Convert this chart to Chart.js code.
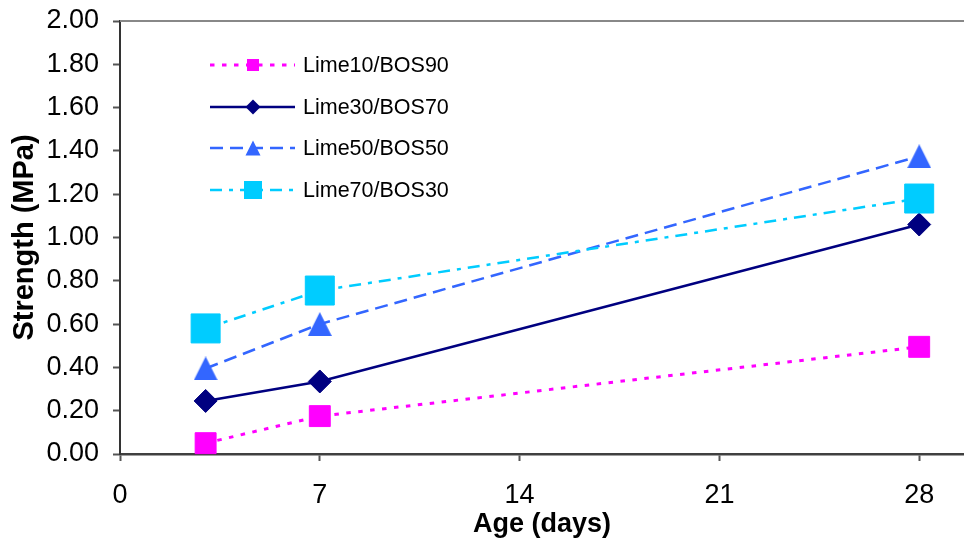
<!DOCTYPE html>
<html>
<head>
<meta charset="utf-8">
<script src="https://cdn.jsdelivr.net/npm/chart.js@4/dist/chart.umd.min.js"></script>
<style>
  html, body { margin: 0; padding: 0; background: #ffffff; }
  #wrap { width: 964px; height: 542px; position: relative; }
</style>
</head>
<body>
<div id="wrap"><canvas id="c" width="964" height="542"></canvas></div>
<script>
// Curing age (days) and compressive strength (MPa) per binder blend
const ages = [3, 7, 28];
const seriesNames = ['Lime10/BOS90', 'Lime30/BOS70', 'Lime50/BOS50', 'Lime70/BOS30'];
const lime10 = [0.05, 0.175, 0.495];
const lime30 = [0.245, 0.335, 1.06];
const lime50 = [0.395, 0.60, 1.375];
const lime70 = [0.58, 0.755, 1.18];
const xTickValues = [0, 7, 14, 21, 28];

const FONT = "'Liberation Sans', Arial, Helvetica, sans-serif";

// Isosceles triangle marker, centred on its bounding box
function triangleImage(size, color) {
  const cv = document.createElement('canvas');
  cv.width = size; cv.height = size;
  const g = cv.getContext('2d');
  g.fillStyle = color;
  g.beginPath();
  g.moveTo(size / 2, 0);
  g.lineTo(size, size);
  g.lineTo(0, size);
  g.closePath();
  g.fill();
  return cv;
}

const styles = [
  { color: '#FF00FF', dash: [4.5, 7.5], width: 3, point: 'rect', radius: 14.8, legendSize: 12 },
  { color: '#000080', dash: [], width: 2.5, point: 'rectRot', radius: 11.5, legendSize: 15 },
  { color: '#3366FF', dash: [13, 7], width: 2.5, point: triangleImage(24, '#3366FF'), radius: 12, legendSize: 15 },
  { color: '#00CCFF', dash: [12, 7, 4, 7], width: 2.5, point: 'rect', radius: 20.5, legendSize: 18 }
];
const seriesValues = [lime10, lime30, lime50, lime70];

const datasets = seriesValues.map((vals, i) => ({
  label: seriesNames[i],
  data: ages.map((a, k) => ({ x: a, y: vals[k] })),
  borderColor: styles[i].color,
  backgroundColor: styles[i].color,
  borderWidth: styles[i].width,
  borderDash: styles[i].dash,
  pointStyle: styles[i].point,
  pointRadius: styles[i].radius,
  pointBackgroundColor: styles[i].color,
  pointBorderColor: styles[i].color,
  pointBorderWidth: 1,
  tension: 0,
  fill: false,
  order: seriesValues.length - i,
  clip: false
}));

// Top frame line and the in-plot legend
const framePlugin = {
  id: 'frameAndLegend',
  beforeDatasetsDraw(chart) {
    const { ctx, chartArea } = chart;
    ctx.save();
    ctx.strokeStyle = '#888888';
    ctx.lineWidth = 2;
    ctx.beginPath();
    ctx.moveTo(chartArea.left, chartArea.top);
    ctx.lineTo(chartArea.right, chartArea.top);
    ctx.stroke();
    ctx.restore();
  },
  afterDatasetsDraw(chart) {
    const { ctx } = chart;
    const x0 = 210, x1 = 295, xm = 253, xt = 303;
    const rowsY = [65, 107, 148, 190];
    ctx.save();
    chart.data.datasets.forEach((ds, i) => {
      const y = rowsY[i];
      const st = styles[i];
      ctx.strokeStyle = st.color;
      ctx.lineWidth = st.width;
      ctx.setLineDash(st.dash);
      ctx.beginPath();
      ctx.moveTo(x0, y);
      ctx.lineTo(x1, y);
      ctx.stroke();
      ctx.setLineDash([]);
      ctx.fillStyle = st.color;
      const s = st.legendSize;
      if (i === 1) {
        ctx.beginPath();
        ctx.moveTo(xm - s / 2, y);
        ctx.lineTo(xm, y - s / 2);
        ctx.lineTo(xm + s / 2, y);
        ctx.lineTo(xm, y + s / 2);
        ctx.closePath();
        ctx.fill();
      } else if (i === 2) {
        ctx.beginPath();
        ctx.moveTo(xm, y - s / 2);
        ctx.lineTo(xm + s / 2, y + s / 2);
        ctx.lineTo(xm - s / 2, y + s / 2);
        ctx.closePath();
        ctx.fill();
      } else {
        ctx.fillRect(xm - s / 2, y - s / 2, s, s);
      }
      ctx.fillStyle = '#000000';
      ctx.font = '21.5px ' + FONT;
      ctx.textAlign = 'left';
      ctx.textBaseline = 'middle';
      ctx.fillText(ds.label, xt, y + 1);
    });
    ctx.restore();
  }
};

new Chart(document.getElementById('c'), {
  type: 'line',
  data: { datasets },
  plugins: [framePlugin],
  options: {
    responsive: false,
    animation: false,
    events: [],
    layout: { autoPadding: false, padding: { top: 21, right: 0, bottom: 0, left: 0 } },
    plugins: {
      legend: { display: false },
      tooltip: { enabled: false },
      title: { display: false }
    },
    scales: {
      x: {
        type: 'linear',
        min: 0,
        max: 29.57,
        afterFit(scale) {
          scale.height = 88;
          scale.paddingLeft = 0;
          scale.paddingRight = 0;
        },
        afterBuildTicks(scale) { scale.ticks = xTickValues.map(v => ({ value: v })); },
        grid: {
          display: true,
          drawOnChartArea: false,
          drawTicks: true,
          tickLength: 7,
          tickColor: '#555555',
          tickWidth: 2
        },
        border: { display: true, color: '#404040', width: 2.5 },
        ticks: {
          color: '#000000',
          font: { family: FONT, size: 27 },
          padding: 18,
          maxRotation: 0,
          callback: v => String(v)
        },
        title: {
          display: true,
          text: 'Age (days)',
          color: '#000000',
          font: { family: FONT, size: 27, weight: 'bold' },
          padding: { top: 0, bottom: 1 }
        }
      },
      y: {
        type: 'linear',
        min: 0,
        max: 2,
        afterFit(scale) {
          scale.width = 120;
          scale.paddingTop = 0;
          scale.paddingBottom = 0;
        },
        grid: {
          display: true,
          drawOnChartArea: false,
          drawTicks: true,
          tickLength: 7,
          tickColor: '#555555',
          tickWidth: 2
        },
        border: { display: true, color: '#333333', width: 2 },
        ticks: {
          stepSize: 0.2,
          color: '#000000',
          font: { family: FONT, size: 27 },
          padding: 14,
          callback: v => Number(v).toFixed(2)
        },
        title: {
          display: true,
          text: 'Strength (MPa)',
          color: '#000000',
          font: { family: FONT, size: 29, weight: 'bold' },
          padding: { top: 8, bottom: 0 }
        }
      }
    }
  }
});
</script>
</body>
</html>
